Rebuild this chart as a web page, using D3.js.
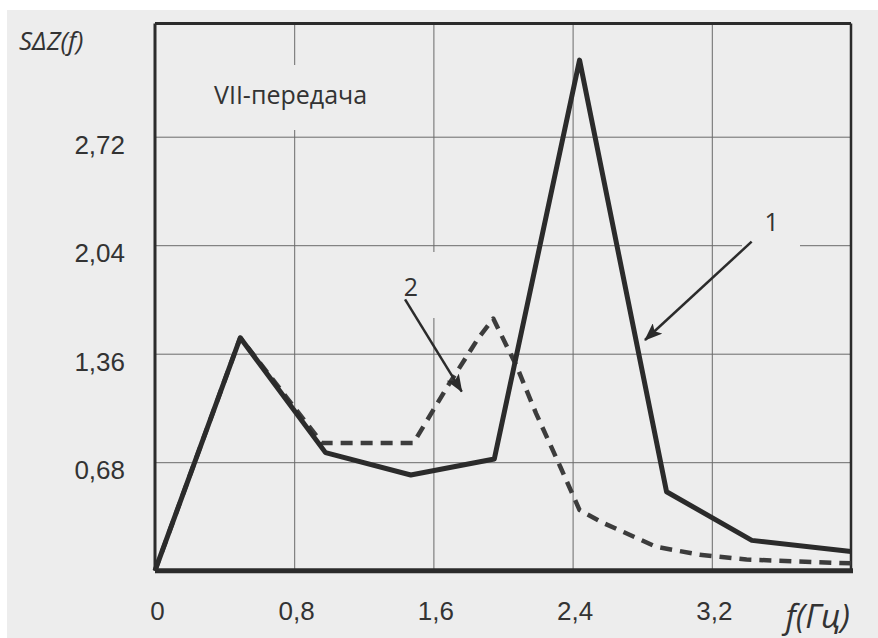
<!DOCTYPE html>
<html>
<head>
<meta charset="utf-8">
<script src="https://cdn.jsdelivr.net/npm/d3@7"></script>
<style>
  body { margin: 0; background: #fff; }
  svg { display: block; font-family: "Open Sans", sans-serif; }
  .grid line { stroke: #6a6a6a; stroke-width: 1; }
  .grid .domain { display: none; }
  .tick text { fill: #333; font-size: 26px; }
</style>
</head>
<body>
<div id="chart"></div>
<script>
// values
const xTicks = [0, 0.8, 1.6, 2.4, 3.2];
const yTicks = [0.68, 1.36, 2.04, 2.72];

const freq1 = [0, 0.49, 0.98, 1.47, 1.95, 2.44, 2.94, 3.43, 4.0];
const spec1 = [0, 1.46, 0.74, 0.60, 0.70, 3.20, 0.495, 0.19, 0.12];

const freq2 = [0, 0.49, 0.96, 1.485, 1.684, 1.86, 1.944, 2.079, 2.19, 2.33, 2.44, 2.575, 2.88, 3.13, 3.40, 4.0];
const spec2 = [0, 1.46, 0.80, 0.80, 1.16, 1.46, 1.58, 1.28, 0.986, 0.65, 0.38, 0.30, 0.15, 0.10, 0.07, 0.046];

// annotation arrows in data units: [label x, label y, start x, start y, tip x, tip y]
const arrowLabels = ['1', '2'];
const arrowGeom = [
  [3.544, 2.187, 3.429, 2.062, 2.816, 1.446],
  [1.47, 1.776, 1.437, 1.701, 1.763, 1.122]
];

const W = 878, H = 638;
const margin = {top: 23.4, right: 27, bottom: 67.3, left: 155};
const w = W - margin.left - margin.right;
const h = H - margin.top - margin.bottom;
const paper = '#ededed';
const ink = '#2b2b2b';

const svg = d3.select('#chart').append('svg')
  .attr('width', W).attr('height', H);

svg.append('rect').attr('x', 7).attr('y', 10)
  .attr('width', W - 7).attr('height', H - 10).attr('fill', paper);

const defs = svg.append('defs');
defs.append('marker')
  .attr('id', 'head')
  .attr('markerUnits', 'userSpaceOnUse')
  .attr('viewBox', '0 0 18 14')
  .attr('markerWidth', 18).attr('markerHeight', 14)
  .attr('refX', 17).attr('refY', 7)
  .attr('orient', 'auto')
  .append('path').attr('d', 'M0,0 L18,7 L0,14 L4,7 Z').attr('fill', ink);

const chart = svg.append('g')
  .attr('transform', `translate(${margin.left},${margin.top})`);

const x = d3.scaleLinear().domain([0, 4]).range([0, w]);
const y = d3.scaleLinear().domain([0, 3.43]).range([h, 0]);

const fmt = d => String(d).replace('.', ',');

chart.append('g').attr('class', 'grid x-grid')
  .attr('transform', `translate(0,${h})`)
  .call(d3.axisBottom(x).tickValues(xTicks).tickSize(-h).tickPadding(31).tickFormat(fmt))
  .call(g => g.selectAll('text').attr('dx', 2));

chart.append('g').attr('class', 'grid y-grid')
  .call(d3.axisLeft(y).tickValues(yTicks).tickSize(-w).tickPadding(30).tickFormat(fmt))
  .call(g => g.selectAll('text').attr('transform', 'translate(0,8)'));

// label boxes that break the grid
chart.append('rect').attr('x', 200 - margin.left).attr('y', 65 - margin.top)
  .attr('width', 190).attr('height', 65).attr('fill', paper);
chart.append('rect').attr('x', 392 - margin.left).attr('y', 252 - margin.top)
  .attr('width', 52).attr('height', 66).attr('fill', paper);
chart.append('rect').attr('x', 742 - margin.left).attr('y', 200 - margin.top)
  .attr('width', 58).attr('height', 62).attr('fill', paper);

// frame
chart.append('line').attr('x1', 0).attr('x2', w).attr('y1', 0).attr('y2', 0)
  .attr('stroke', ink).attr('stroke-width', 3);
chart.append('line').attr('x1', w).attr('x2', w).attr('y1', 0).attr('y2', h)
  .attr('stroke', ink).attr('stroke-width', 2.5);
chart.append('line').attr('x1', 0).attr('x2', 0).attr('y1', 0).attr('y2', h)
  .attr('stroke', ink).attr('stroke-width', 3);

const line = d3.line().x(d => x(d[0])).y(d => y(d[1]));

chart.append('path')
  .datum(d3.zip(freq2, spec2))
  .attr('d', line)
  .attr('fill', 'none')
  .attr('stroke', '#3c3c3c')
  .attr('stroke-width', 4.5)
  .attr('stroke-dasharray', '12,8')
  .attr('stroke-linejoin', 'round');

chart.append('path')
  .datum(d3.zip(freq1, spec1))
  .attr('d', line)
  .attr('fill', 'none')
  .attr('stroke', ink)
  .attr('stroke-width', 5)
  .attr('stroke-linejoin', 'round');

chart.append('line').attr('x1', 0).attr('x2', w + 2).attr('y1', h).attr('y2', h)
  .attr('stroke', ink).attr('stroke-width', 5);

// arrows and their labels
arrowGeom.forEach((a, i) => {
  chart.append('line')
    .attr('x1', x(a[2])).attr('y1', y(a[3]))
    .attr('x2', x(a[4])).attr('y2', y(a[5]))
    .attr('stroke', ink).attr('stroke-width', 2.5)
    .attr('marker-end', 'url(#head)');
  chart.append('text')
    .attr('x', x(a[0])).attr('y', y(a[1]))
    .attr('dy', '0.36em')
    .attr('text-anchor', 'middle')
    .attr('fill', '#333').attr('font-size', 25)
    .text(arrowLabels[i]);
});

chart.append('text')
  .attr('x', 214 - margin.left).attr('y', 104 - margin.top)
  .attr('fill', '#333').attr('font-size', 25)
  .text('VII-передача');

svg.append('text')
  .attr('x', 19).attr('y', 50)
  .attr('fill', '#333').attr('font-size', 26).attr('font-style', 'italic')
  .text('SΔZ(f)');

svg.append('text')
  .attr('x', 850).attr('y', 628)
  .attr('text-anchor', 'end')
  .attr('fill', '#333').attr('font-size', 33).attr('font-style', 'italic')
  .text('f(Гц)');
</script>
</body>
</html>
